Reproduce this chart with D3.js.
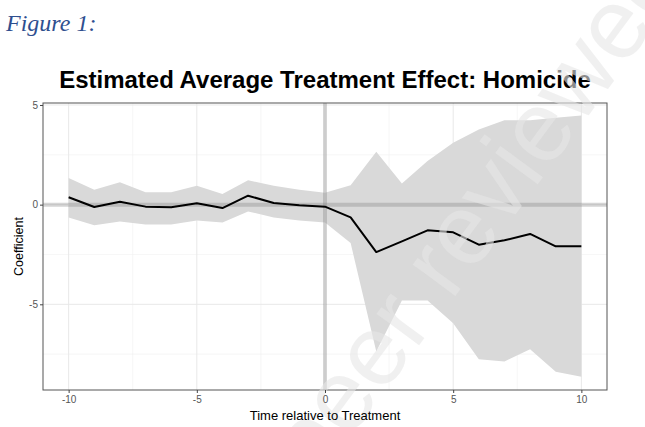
<!DOCTYPE html>
<html>
<head>
<meta charset="utf-8">
<script src="https://cdn.jsdelivr.net/npm/d3@7"></script>
<style>
html,body{margin:0;padding:0;background:#fff;}
svg{display:block;}
</style>
</head>
<body>
<svg id="chart" width="645" height="427"></svg>
<script>
// Data
const periods = [-10,-9,-8,-7,-6,-5,-4,-3,-2,-1,0,1,2,3,4,5,6,7,8,9,10];
const coef  = [0.37,-0.12,0.15,-0.10,-0.13,0.07,-0.17,0.45,0.08,-0.03,-0.10,-0.64,-2.38,-1.84,-1.29,-1.39,-2.01,-1.79,-1.47,-2.09,-2.09];
const upper = [1.34,0.75,1.12,0.62,0.62,0.95,0.54,1.22,0.95,0.75,0.60,0.97,2.66,1.06,2.19,3.10,3.77,4.24,4.24,4.36,4.47];
const lower = [-0.64,-1.04,-0.84,-1.00,-1.00,-0.80,-0.89,-0.34,-0.64,-0.80,-0.90,-1.93,-7.37,-4.81,-4.81,-5.95,-7.76,-7.87,-7.25,-8.38,-8.63];
const xTicks = [-10,-5,0,5,10];
const yTicks = [-5,0,5];
const xMinor = [-7.5,-2.5,2.5,7.5];
const yMinor = [-7.5,-2.5,2.5];

const svg = d3.select("#chart");
const L = 43, R = 607, T = 103, B = 390;

const x = d3.scaleLinear().domain([-11, 11]).range([L, R]);
const y = d3.scaleLinear().domain([-9.3, 5.1]).range([B, T]);

const data = periods.map((p,i)=>({p, c:coef[i], u:upper[i], l:lower[i]}));

// Figure caption
svg.append("text").attr("x",6).attr("y",31)
  .attr("font-family","Liberation Serif, serif").attr("font-style","italic")
  .attr("font-size",24).attr("fill","#2f4f8f").text("Figure 1:");

// Title
svg.append("text").attr("x",325).attr("y",88).attr("text-anchor","middle")
  .attr("font-family","Liberation Sans, Arial, sans-serif").attr("font-weight","bold")
  .attr("font-size",24).attr("fill","#000")
  .text("Estimated Average Treatment Effect: Homicide");

const g = svg.append("g");

// grid
g.selectAll(".gxm").data(xMinor).enter().append("line")
  .attr("x1",d=>x(d)).attr("x2",d=>x(d)).attr("y1",T).attr("y2",B)
  .attr("stroke","#f0f0f0").attr("stroke-width",0.6);
g.selectAll(".gym").data(yMinor).enter().append("line")
  .attr("y1",d=>y(d)).attr("y2",d=>y(d)).attr("x1",L).attr("x2",R)
  .attr("stroke","#f0f0f0").attr("stroke-width",0.6);
g.selectAll(".gx").data(xTicks).enter().append("line")
  .attr("x1",d=>x(d)).attr("x2",d=>x(d)).attr("y1",T).attr("y2",B)
  .attr("stroke","#e8e8e8").attr("stroke-width",1);
g.selectAll(".gy").data(yTicks).enter().append("line")
  .attr("y1",d=>y(d)).attr("y2",d=>y(d)).attr("x1",L).attr("x2",R)
  .attr("stroke","#e8e8e8").attr("stroke-width",1);

// ribbon
const area = d3.area().x(d=>x(d.p)).y0(d=>y(d.l)).y1(d=>y(d.u));
g.append("path").datum(data).attr("d",area).attr("fill","#d9d9d9");

// reference lines at zero
g.append("line").attr("x1",x(0)).attr("x2",x(0)).attr("y1",T).attr("y2",B)
  .attr("stroke","#7f7f7f").attr("stroke-opacity",0.33).attr("stroke-width",4);
g.append("line").attr("y1",y(0)).attr("y2",y(0)).attr("x1",L).attr("x2",R)
  .attr("stroke","#7f7f7f").attr("stroke-opacity",0.33).attr("stroke-width",4);

// estimate line
const line = d3.line().x(d=>x(d.p)).y(d=>y(d.c));
g.append("path").datum(data).attr("d",line).attr("fill","none")
  .attr("stroke","#000").attr("stroke-width",2).attr("stroke-linejoin","round");

// watermark
svg.append("text").attr("transform","translate(316,485) rotate(-53.6)")
  .attr("font-family","Liberation Sans, Arial, sans-serif")
  .attr("font-size",100).attr("fill","#e6e6e6").attr("fill-opacity",0.6)
  .text("peer reviewed");

// panel border
g.append("rect").attr("x",L).attr("y",T).attr("width",R-L).attr("height",B-T)
  .attr("fill","none").attr("stroke","#555").attr("stroke-width",1);

// axes
const xAxis = d3.axisBottom(x).tickValues(xTicks).tickSize(3).tickPadding(3).tickFormat(d3.format("d"));
const yAxis = d3.axisLeft(y).tickValues(yTicks).tickSize(3).tickPadding(2).tickFormat(d3.format("d"));
const gx = svg.append("g").attr("transform",`translate(0,${B})`).call(xAxis);
const gy = svg.append("g").attr("transform",`translate(${L},0)`).call(yAxis);
[gx,gy].forEach(a=>{
  a.select(".domain").remove();
  a.selectAll(".tick line").attr("stroke","#444");
  a.selectAll(".tick text").attr("fill","#555").attr("font-size",10)
    .attr("font-family","Liberation Sans, Arial, sans-serif");
});
gx.selectAll(".tick text").text(d=> d<0 ? "-"+Math.abs(d) : d);
gy.selectAll(".tick text").text(d=> d<0 ? "-"+Math.abs(d) : d);

// axis titles
svg.append("text").attr("x",325).attr("y",420).attr("text-anchor","middle")
  .attr("font-family","Liberation Sans, Arial, sans-serif").attr("font-size",13)
  .attr("fill","#000").text("Time relative to Treatment");
svg.append("text").attr("transform",`translate(23,${(T+B)/2}) rotate(-90)`)
  .attr("text-anchor","middle")
  .attr("font-family","Liberation Sans, Arial, sans-serif").attr("font-size",12.5)
  .attr("fill","#000").text("Coefficient");
</script>
</body>
</html>
